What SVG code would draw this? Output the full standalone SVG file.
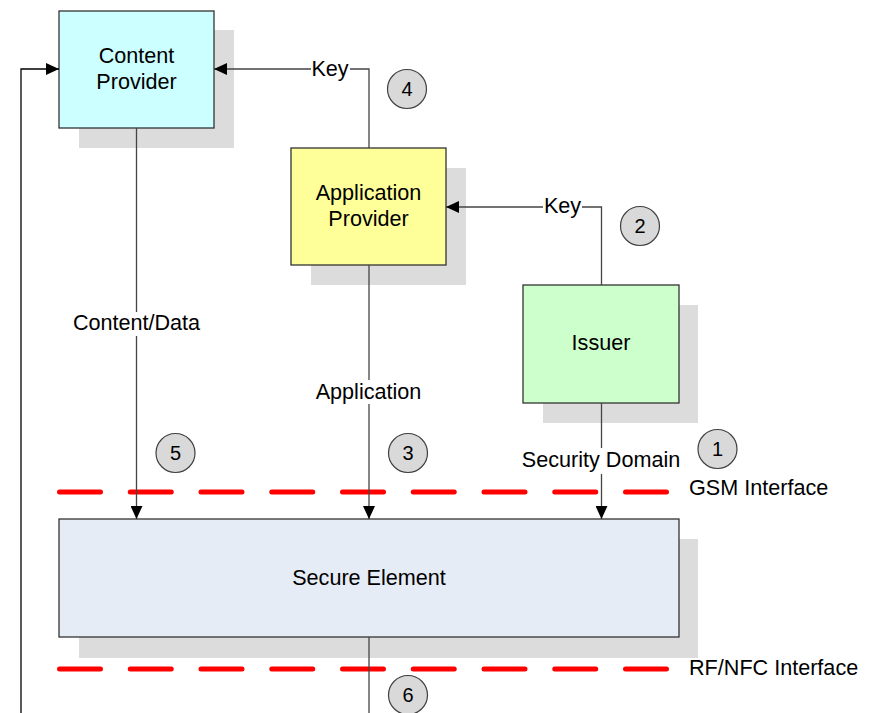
<svg xmlns="http://www.w3.org/2000/svg" width="869" height="713" viewBox="0 0 869 713">
  <style>
    text { font-family: "Liberation Sans", Arial, sans-serif; font-size: 21.6px; fill: #000; }
    .mid { text-anchor: middle; }
    .shadow { fill: #dcdcdc; stroke: none; }
    .box { stroke: #333; stroke-width: 1.3; }
    .conn { fill: none; stroke: #444; stroke-width: 1.3; }
    .lbl { fill: #fff; stroke: none; }
    .iface { fill: none; stroke: #ff0000; stroke-width: 5; stroke-linecap: round; stroke-dasharray: 41 29.75; }
    .step circle { fill: #d9d9d9; stroke: #404040; stroke-width: 1.2; }
    .step text { font-size: 20px; text-anchor: middle; }
  </style>
  <defs>
    <marker id="arrow" markerWidth="13" markerHeight="12" refX="13" refY="6" orient="auto" markerUnits="userSpaceOnUse">
      <path d="M0,0 L13,6 L0,12 Z" fill="#000"/>
    </marker>
  </defs>

  <rect width="869" height="713" fill="#fff"/>

  <!-- interface boundaries -->
  <g id="interfaces">
    <line class="iface" x1="59.5" y1="492" x2="667.5" y2="492"/>
    <text x="689" y="495">GSM Interface</text>
    <line class="iface" x1="59.5" y1="669" x2="667.5" y2="669"/>
    <text x="689" y="675">RF/NFC Interface</text>
  </g>

  <!-- nodes -->
  <g id="content-provider">
    <rect class="shadow" x="79" y="30" width="155" height="118"/>
    <rect class="box" x="59" y="11" width="155" height="117" fill="#ccffff"/>
    <text class="mid" x="136.5" y="63">Content</text>
    <text class="mid" x="136.5" y="89">Provider</text>
  </g>

  <g id="application-provider">
    <rect class="shadow" x="311" y="168" width="155" height="117"/>
    <rect class="box" x="291" y="148" width="155" height="117" fill="#ffff99"/>
    <text class="mid" x="368.5" y="200">Application</text>
    <text class="mid" x="368.5" y="226">Provider</text>
  </g>

  <g id="issuer">
    <rect class="shadow" x="543" y="305" width="155" height="118"/>
    <rect class="box" x="523" y="285" width="156" height="118" fill="#ccffcc"/>
    <text class="mid" x="601" y="350">Issuer</text>
  </g>

  <g id="secure-element">
    <rect class="shadow" x="79" y="539" width="619" height="119"/>
    <rect class="box" x="59" y="519" width="620" height="118" fill="#e6ecf6"/>
    <text class="mid" x="369" y="585">Secure Element</text>
  </g>

  <!-- connectors -->
  <g id="connectors">
    <!-- content / data download -->
    <line class="conn" x1="136.5" y1="128" x2="136.5" y2="519" marker-end="url(#arrow)"/>
    <rect class="lbl" x="70" y="312" width="134" height="24"/>
    <text class="mid" x="136.5" y="330">Content/Data</text>

    <!-- application download -->
    <line class="conn" x1="369" y1="265" x2="369" y2="519" marker-end="url(#arrow)"/>
    <rect class="lbl" x="314" y="380" width="110" height="24"/>
    <text class="mid" x="368.5" y="399">Application</text>

    <!-- security domain -->
    <line class="conn" x1="601.5" y1="403" x2="601.5" y2="519" marker-end="url(#arrow)"/>
    <rect class="lbl" x="519" y="448" width="164" height="26"/>
    <text class="mid" x="601" y="467">Security Domain</text>

    <!-- issuer key to application provider -->
    <polyline class="conn" points="601.5,285 601.5,207 446,207" marker-end="url(#arrow)"/>
    <rect class="lbl" x="543" y="196" width="39" height="22"/>
    <text class="mid" x="562.5" y="213">Key</text>

    <!-- application provider key to content provider -->
    <polyline class="conn" points="369,148 369,69 214,69" marker-end="url(#arrow)"/>
    <rect class="lbl" x="311" y="58" width="39" height="22"/>
    <text class="mid" x="330" y="76">Key</text>

    <!-- secure element outward link -->
    <line class="conn" x1="369" y1="637" x2="369" y2="713"/>

    <!-- return path to content provider -->
    <polyline class="conn" points="21,713 21,69 59,69" stroke="#000" style="stroke:#000" marker-end="url(#arrow)"/>
  </g>

  <!-- step numbers -->
  <g id="steps">
    <g class="step"><circle cx="717.5" cy="449" r="19.5"/><text x="717.5" y="456">1</text></g>
    <g class="step"><circle cx="640" cy="226" r="19.5"/><text x="640" y="233">2</text></g>
    <g class="step"><circle cx="408" cy="453" r="19.5"/><text x="408" y="460">3</text></g>
    <g class="step"><circle cx="407" cy="89" r="19.5"/><text x="407" y="96">4</text></g>
    <g class="step"><circle cx="175.5" cy="453" r="19.5"/><text x="175.5" y="460">5</text></g>
    <g class="step"><circle cx="408" cy="695" r="19.5"/><text x="408" y="702">6</text></g>
  </g>
</svg>
